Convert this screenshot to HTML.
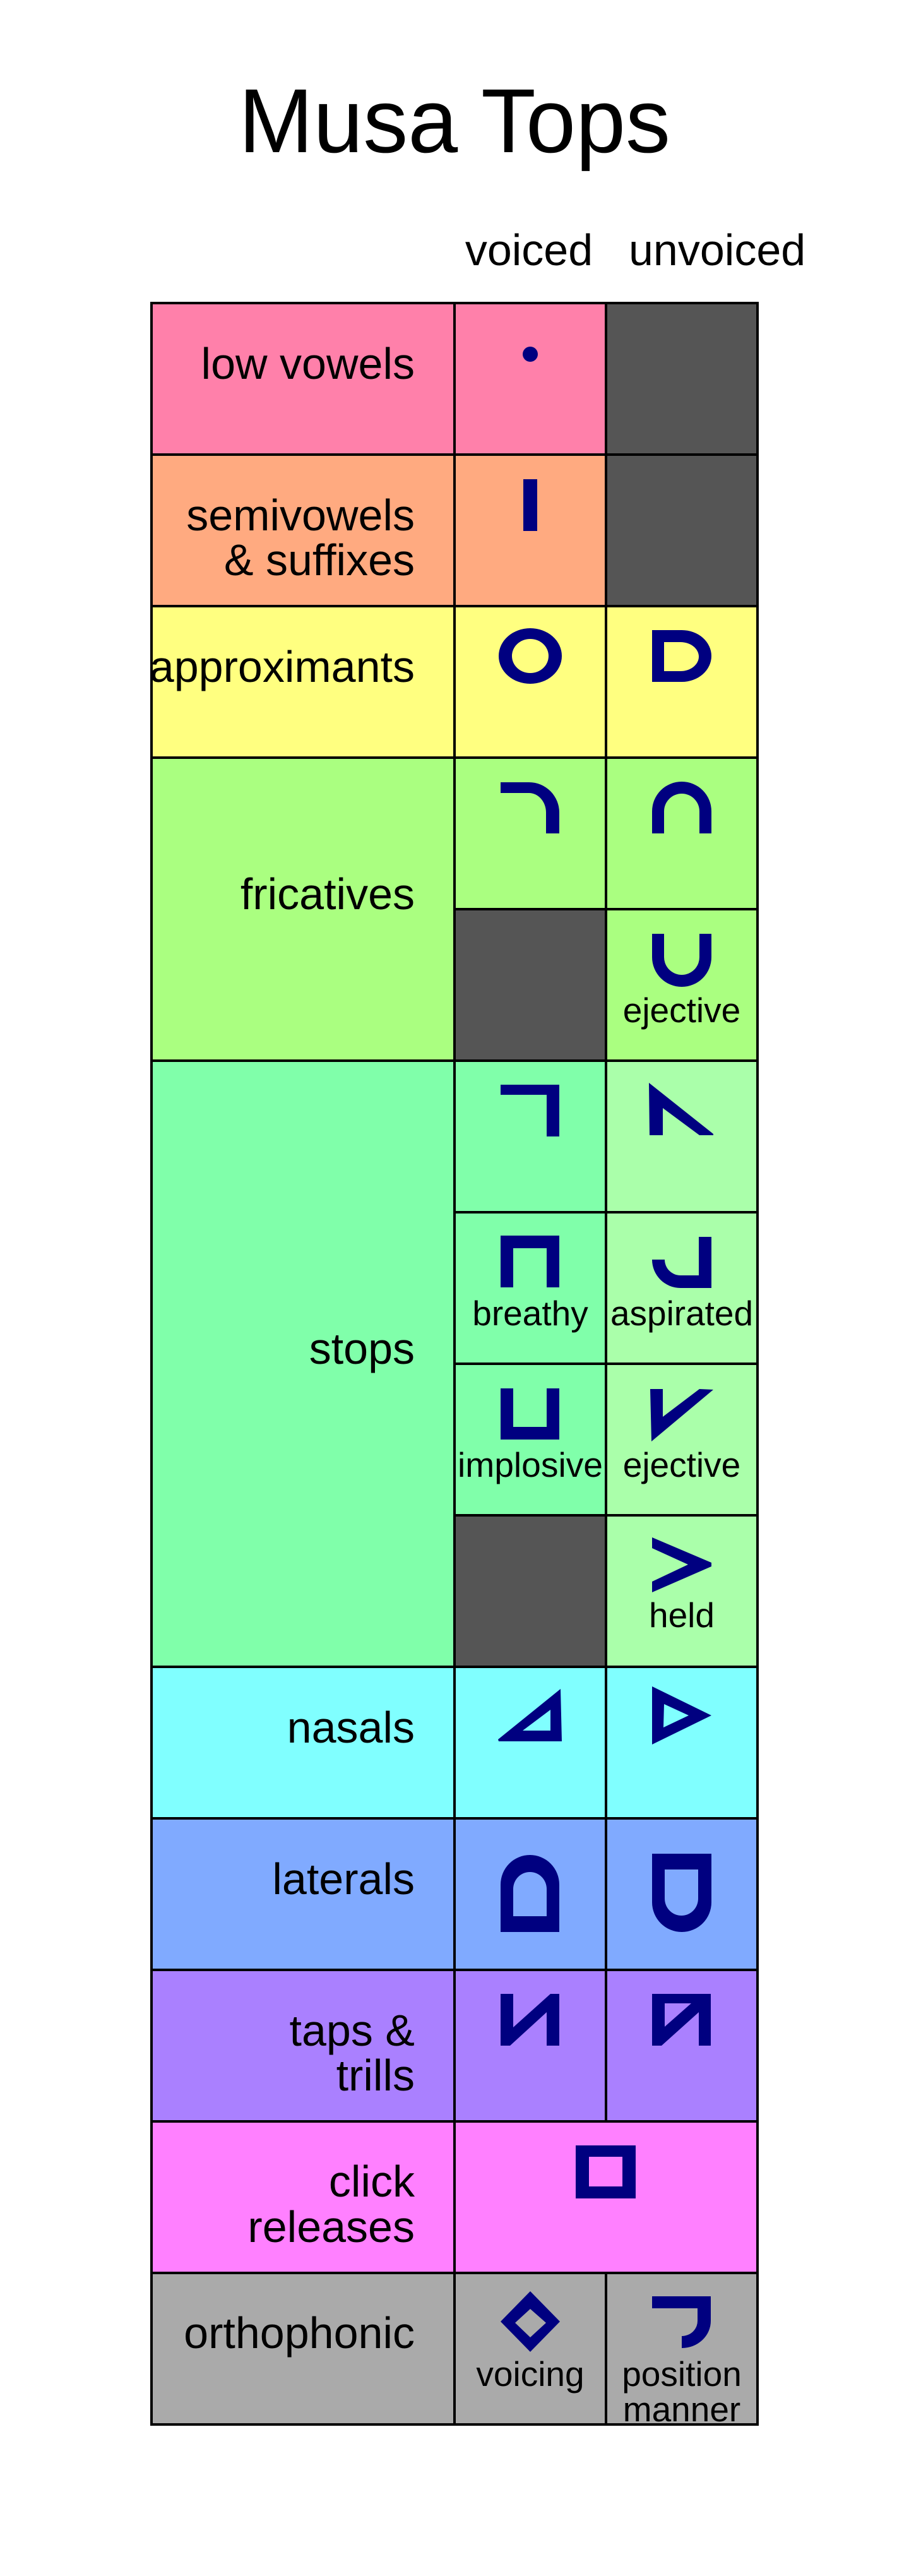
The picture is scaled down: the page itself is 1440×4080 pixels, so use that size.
<!DOCTYPE html>
<html><head><meta charset="utf-8"><style>html,body{margin:0;padding:0;background:#fff}svg{display:block}</style></head>
<body>
<svg xmlns="http://www.w3.org/2000/svg" width="1440" height="4080" viewBox="0 0 1440 4080" font-family="Liberation Sans, Arial, sans-serif">
<rect width="1440" height="4080" fill="#fff"/>
<text x="720" y="241" font-size="144" text-anchor="middle" textLength="684" lengthAdjust="spacingAndGlyphs">Musa Tops</text>
<text x="838" y="420" font-size="70" text-anchor="middle">voiced</text>
<text x="996" y="420" font-size="70">unvoiced</text>

<rect x="240" y="480" width="720" height="240" fill="#FF80AA"/>
<rect x="240" y="720" width="720" height="240" fill="#FFAA80"/>
<rect x="240" y="960" width="960" height="240" fill="#FFFF80"/>
<rect x="240" y="1200" width="960" height="480" fill="#AAFF80"/>
<rect x="240" y="1680" width="720" height="960" fill="#80FFAA"/>
<rect x="960" y="1680" width="240" height="960" fill="#AAFFAA"/>
<rect x="240" y="2640" width="960" height="240" fill="#80FFFF"/>
<rect x="240" y="2880" width="960" height="240" fill="#80AAFF"/>
<rect x="240" y="3120" width="960" height="240" fill="#AA80FF"/>
<rect x="240" y="3360" width="960" height="240" fill="#FF80FF"/>
<rect x="240" y="3600" width="960" height="240" fill="#AAAAAA"/>
<rect x="960" y="480" width="240" height="480" fill="#555555"/>
<rect x="720" y="1440" width="240" height="240" fill="#555555"/>
<rect x="720" y="2400" width="240" height="240" fill="#555555"/>

<g stroke="#000" stroke-width="4" fill="none">
<rect x="240" y="480" width="960" height="3360"/>
<line x1="720" y1="480" x2="720" y2="3840"/>
<line x1="960" y1="480" x2="960" y2="3360"/>
<line x1="960" y1="3600" x2="960" y2="3840"/>
<line x1="240" y1="720" x2="1200" y2="720"/>
<line x1="240" y1="960" x2="1200" y2="960"/>
<line x1="240" y1="1200" x2="1200" y2="1200"/>
<line x1="720" y1="1440" x2="1200" y2="1440"/>
<line x1="240" y1="1680" x2="1200" y2="1680"/>
<line x1="720" y1="1920" x2="1200" y2="1920"/>
<line x1="720" y1="2160" x2="1200" y2="2160"/>
<line x1="720" y1="2400" x2="1200" y2="2400"/>
<line x1="240" y1="2640" x2="1200" y2="2640"/>
<line x1="240" y1="2880" x2="1200" y2="2880"/>
<line x1="240" y1="3120" x2="1200" y2="3120"/>
<line x1="240" y1="3360" x2="1200" y2="3360"/>
<line x1="240" y1="3600" x2="1200" y2="3600"/>
</g>

<g font-size="70" text-anchor="end">
<text x="657" y="600">low vowels</text>
<text x="657" y="840">semivowels</text>
<text x="657" y="911">&amp; suffixes</text>
<text x="657" y="1080">approximants</text>
<text x="657" y="1440">fricatives</text>
<text x="657" y="2160">stops</text>
<text x="657" y="2760">nasals</text>
<text x="657" y="3000">laterals</text>
<text x="657" y="3240">taps &amp;</text>
<text x="657" y="3311">trills</text>
<text x="657" y="3479">click</text>
<text x="657" y="3551">releases</text>
<text x="657" y="3719">orthophonic</text>
</g>

<g fill="#000080" fill-rule="evenodd">
<circle cx="840" cy="561" r="12"/>
<rect x="829" y="759" width="22" height="82"/>
<g transform="translate(720,960)"><path d="M70,79 A50,44 0 1 0 170,79 A50,44 0 1 0 70,79 Z M91,79 A29,27 0 1 0 149,79 A29,27 0 1 0 91,79 Z"/></g>
<g transform="translate(960,960)"><path d="M73,38 H120 A47,41 0 0 1 120,120 H73 Z M92,57 H118 A29,23 0 0 1 118,103 H92 Z"/></g>
<g transform="translate(720,1200)"><path d="M73,39 H118 A48,48 0 0 1 166,87 V120 H145 V87 A27,31 0 0 0 118,56 H73 Z"/></g>
<g transform="translate(960,1200)"><path d="M73,120 V85 A47,47 0 0 1 167,85 V120 H148 V85 A28,28 0 0 0 92,85 V120 Z"/></g>
<g transform="translate(960,1440)"><path d="M73,39 V76 A47,47 0 0 0 167,76 V39 H148 V76 A28,28 0 0 1 92,76 V39 Z"/></g>
<g transform="translate(720,1680)"><path d="M73,38 H166 V120 H146 V54 H73 Z"/></g>
<g transform="translate(960,1680)"><polygon points="68,35 170,116 170,118 148,118 90,75 90,118 69,118"/></g>
<g transform="translate(720,1920)"><path d="M73,37 H166 V119 H146 V57 H93 V119 H73 Z"/></g>
<g transform="translate(960,1920)"><path d="M147,39 H167 V120 H118 A45,45 0 0 1 73,75 H93 A25,25 0 0 0 118,100 H147 Z"/></g>
<g transform="translate(720,2160)"><path d="M73,39 H93 V100 H146 V39 H166 V120 H73 Z"/></g>
<g transform="translate(960,2160)"><polygon points="70,40 90,40 90,84 148,40 170,41 72,123"/></g>
<g transform="translate(960,2400)"><polygon points="73,35 167,75 167,81 73,122 73,105 130,78 73,52"/></g>
<g transform="translate(720,2640)"><path d="M69,115 L168,35 L170,118 L70,118 Z M108,101 L152,68 L152,101 Z"/></g>
<g transform="translate(960,2640)"><path d="M73,31 L167,77 L73,123 Z M92,59 L131,77 L91,96 Z"/></g>
<g transform="translate(720,2880)"><path d="M73,180 V105 A46.5,47 0 0 1 166,105 V180 Z M93,155 V112 A26.5,27 0 0 1 146,112 V155 Z"/></g>
<g transform="translate(960,2880)"><path d="M73,56 H167 V133 A47,47 0 0 1 73,133 Z M93,81 H146 V127 A26.5,27 0 0 1 93,127 Z"/></g>
<g transform="translate(720,3120)"><polygon points="73,38 93,38 93,91 152,38 166,38 166,120 146,120 146,67 88,120 73,120"/></g>
<g transform="translate(960,3120)"><path d="M73,38 H166 V120 H147 V67 L88,120 H73 Z M93,53 H135 L93,90 Z"/></g>
<path d="M912,3398 H1007 V3482 H912 Z M933,3416 V3463 H986 V3416 Z"/>
<path d="M840,3629 L887,3677 L840,3725 L793,3677 Z M840,3657 L865,3679 L840,3702 L816,3679 Z"/>
<path d="M1033,3637 H1126 V3676 A46,43 0 0 1 1080,3719 V3700 A25,24 0 0 0 1105,3676 V3656 H1033 Z"/>
</g>

<g font-size="55" text-anchor="middle">
<text x="1080" y="1619">ejective</text>
<text x="840" y="2099">breathy</text>
<text x="1080" y="2099" textLength="226" lengthAdjust="spacingAndGlyphs">aspirated</text>
<text x="840" y="2339" textLength="230" lengthAdjust="spacingAndGlyphs">implosive</text>
<text x="1080" y="2339">ejective</text>
<text x="1080" y="2577">held</text>
<text x="840" y="3779">voicing</text>
<text x="1080" y="3779">position</text>
<text x="1080" y="3835">manner</text>
</g>
</svg>
</body></html>
